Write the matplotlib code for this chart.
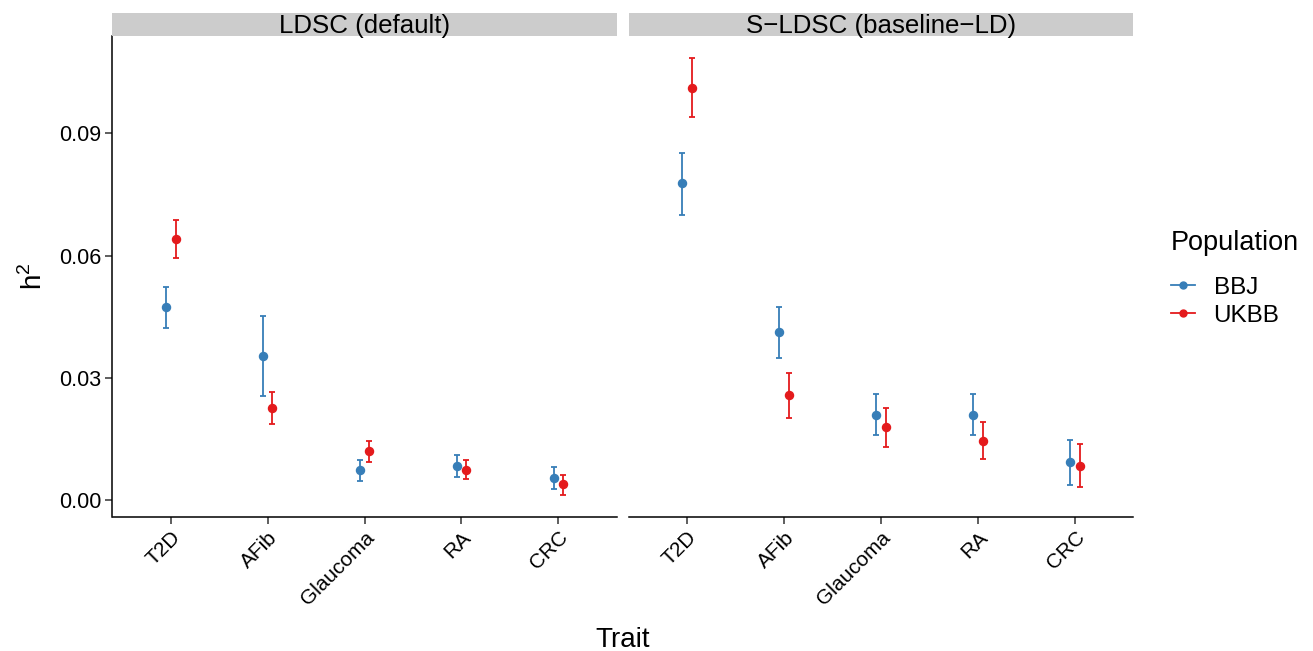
import numpy as np
import matplotlib
matplotlib.use("Agg")
import matplotlib.pyplot as plt
from matplotlib.lines import Line2D

plt.rcParams['font.family'] = ['Liberation Sans', 'DejaVu Sans']
plt.rcParams['mathtext.fontset'] = 'custom'
plt.rcParams['mathtext.rm'] = 'Liberation Sans'

traits = ["T2D", "AFib", "Glaucoma", "RA", "CRC"]
methods = ["LDSC (default)", "S\u2212LDSC (baseline\u2212LD)"]
populations = ["BBJ", "UKBB"]
pop_colors = {"BBJ": "#377EB8", "UKBB": "#E41A1C"}

# h2 estimates and (lower, upper) error bar ends, per method
ldsc_bbj = [0.0473, 0.0353, 0.0074, 0.0084, 0.0055]
ldsc_bbj_lo = [0.0423, 0.0255, 0.0048, 0.0057, 0.0028]
ldsc_bbj_hi = [0.0523, 0.0452, 0.0099, 0.0112, 0.0081]
ldsc_ukbb = [0.0641, 0.0227, 0.0120, 0.0075, 0.0039]
ldsc_ukbb_lo = [0.0594, 0.0188, 0.0094, 0.0051, 0.0014]
ldsc_ukbb_hi = [0.0687, 0.0266, 0.0146, 0.0098, 0.0063]

sldsc_bbj = [0.0777, 0.0412, 0.0210, 0.0210, 0.0094]
sldsc_bbj_lo = [0.0700, 0.0350, 0.0160, 0.0160, 0.0037]
sldsc_bbj_hi = [0.0853, 0.0474, 0.0261, 0.0261, 0.0149]
sldsc_ukbb = [0.1012, 0.0258, 0.0179, 0.0145, 0.0084]
sldsc_ukbb_lo = [0.0939, 0.0202, 0.0131, 0.0101, 0.0032]
sldsc_ukbb_hi = [0.1085, 0.0312, 0.0226, 0.0191, 0.0138]

panels = {
    methods[0]: {"BBJ": (ldsc_bbj, ldsc_bbj_lo, ldsc_bbj_hi),
                 "UKBB": (ldsc_ukbb, ldsc_ukbb_lo, ldsc_ukbb_hi)},
    methods[1]: {"BBJ": (sldsc_bbj, sldsc_bbj_lo, sldsc_bbj_hi),
                 "UKBB": (sldsc_ukbb, sldsc_ukbb_lo, sldsc_ukbb_hi)},
}
dodge = {"BBJ": -0.05, "UKBB": 0.05}

W, H = 1313, 651
fig = plt.figure(figsize=(W / 100, H / 100), dpi=100)

ax_left = [112.5, 629]
ax_w = 504
ax_top, ax_bot = 35.5, 516.6
strip_top = 12.5

axes = []
for i, method in enumerate(methods):
    x0 = ax_left[i]
    ax = fig.add_axes([x0 / W, 1 - ax_bot / H, ax_w / W, (ax_bot - ax_top) / H])
    sax = fig.add_axes([x0 / W, 1 - ax_top / H, ax_w / W, (ax_top - strip_top) / H])
    sax.set_facecolor("#cccccc")
    sax.set_xticks([])
    sax.set_yticks([])
    for s in sax.spines.values():
        s.set_visible(False)
    sax.text(0.5, 0.42, method, ha="center", va="center", fontsize=18.6, transform=sax.transAxes)

    x = np.arange(len(traits))
    for pop in populations:
        y, lo, hi = panels[method][pop]
        y = np.array(y)
        err = [y - np.array(lo), np.array(hi) - y]
        ax.errorbar(x + dodge[pop], y, yerr=err, fmt="o", color=pop_colors[pop],
                    markersize=5.8, elinewidth=1.3, capsize=2, capthick=1.3)

    ax.set_xlim(-0.6, len(traits) - 0.4)
    ax.set_ylim(-0.0040, 0.1140)
    ax.set_xticks(x)
    ax.set_xticklabels(traits, rotation=45, ha="right", rotation_mode="anchor", fontsize=15)
    ax.set_yticks([0.0, 0.03, 0.06, 0.09])
    ax.set_yticklabels(["0.00", "0.03", "0.06", "0.09"], fontsize=15.5)
    ax.tick_params(length=5, width=1.1, color="#333333", pad=3)
    ax.spines["top"].set_visible(False)
    ax.spines["right"].set_visible(False)
    ax.spines["bottom"].set_linewidth(1.1)
    ax.spines["left"].set_linewidth(1.1)
    if i == 1:
        ax.spines["left"].set_visible(False)
        ax.tick_params(axis="y", left=False, labelleft=False)
    axes.append(ax)

axes[0].set_ylabel(r"h$^{2}$", fontsize=20, labelpad=8)
fig.text((112.5 + 1133) / 2 / W, 1 - 640 / H, "Trait", ha="center", va="center", fontsize=20)

handles = [Line2D([0], [0], color=pop_colors[p], marker="o", markersize=5, lw=1.3) for p in populations]
leg = fig.legend(handles, populations, title="Population", loc="upper left",
                 bbox_to_anchor=(1171 / W, 1 - 230 / H), frameon=False, fontsize=17.5,
                 title_fontsize=19.5, handlelength=1.0, handletextpad=0.75, labelspacing=0.25,
                 borderpad=0, borderaxespad=0)
leg._legend_box.align = "left"
leg._legend_box.sep = 15

fig.savefig("out.png", dpi=100)
